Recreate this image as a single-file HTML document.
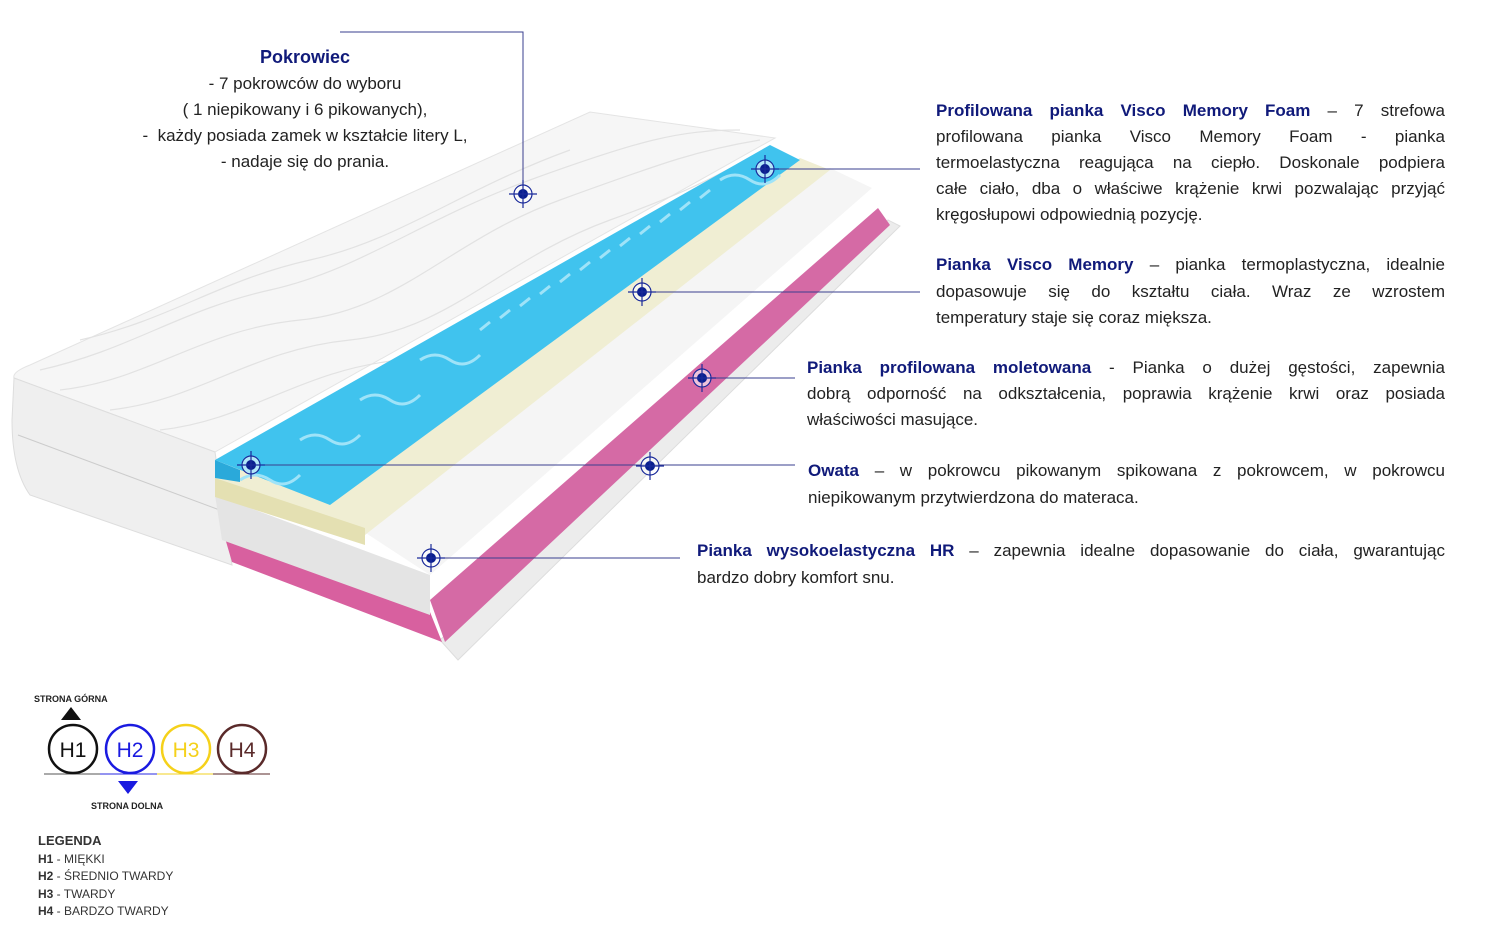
<!DOCTYPE html>
<html><head><meta charset="utf-8"><style>
body{margin:0;width:1500px;height:933px;background:#fff;position:relative;overflow:hidden;font-family:"Liberation Sans",sans-serif;color:#222}
.t{position:absolute;font-size:17px;line-height:26px;white-space:nowrap}
.j{text-align:justify;text-align-last:justify;white-space:normal}
b.h{color:#101a7a}
.lg{position:absolute;font-size:12px;line-height:17.5px;color:#333}
</style></head><body>
<svg width="1500" height="933" style="position:absolute;left:0;top:0">
<!-- cover -->
<path d="M14,378 Q12,372 30,365 L590,112 L775,138 L215,452 Z" fill="#f6f6f6" stroke="#e4e4e4"/>
<g stroke="#e2e2e2" fill="none" stroke-width="1.2">
<path d="M60,390 C150,380 200,330 300,320 S450,240 560,200 S700,150 760,140"/>
<path d="M110,410 C200,400 250,350 350,340 S500,260 610,220 S720,170 770,150"/>
<path d="M160,430 C250,420 300,370 400,360 S550,280 660,240"/>
<path d="M40,370 C130,350 180,310 270,290 S420,220 530,180 S680,130 740,130"/>
<path d="M80,340 C170,320 220,280 310,260 S460,190 570,150"/>
</g>
<path d="M14,378 L215,452 L232,565 L30,495 Q12,470 12,420 Z" fill="#efefef" stroke="#ddd"/>
<line x1="18" y1="435" x2="225" y2="512" stroke="#ccc"/>
<!-- bottom board -->
<polygon points="440,640 458,660 900,226 888,220" fill="#ececec" stroke="#ddd"/>
<!-- pink -->
<polygon points="430,600 445,642 890,225 878,208" fill="#d56aa5"/>
<polygon points="225,538 430,612 442,642 232,562" fill="#d8609f"/>
<!-- white block -->
<polygon points="300,490 430,575 872,188 830,168" fill="#f5f5f5"/>
<polygon points="215,495 430,575 430,615 222,540" fill="#e4e4e4"/>
<!-- yellow -->
<polygon points="215,478 365,535 830,170 800,158" fill="#f0eed3"/>
<polygon points="215,478 365,528 365,545 215,497" fill="#e4e0b2"/>
<!-- blue -->
<polygon points="215,460 330,505 800,160 770,145" fill="#40c3ee"/>
<g stroke="#9fe3f8" stroke-width="3" fill="none">
<path d="M240,480 q15,-10 30,0 t30,-5"/><path d="M300,440 q15,-10 30,0 t30,-5"/>
<path d="M360,400 q15,-10 30,0 t30,-5"/><path d="M420,360 q15,-10 30,0 t30,-5"/>
<path d="M480,330 l10,-8 M500,318 l10,-8 M520,306 l10,-8 M540,294 l10,-8 M560,282 l10,-8 M580,270 l10,-8 M600,258 l10,-8 M620,246 l10,-8 M640,234 l10,-8 M660,222 l10,-8 M680,210 l10,-8 M700,198 l10,-8"/>
<path d="M720,180 q15,-10 30,0 t30,-5"/>
</g>
<polygon points="215,460 240,470 240,482 215,478" fill="#2aa9da"/>
<!-- connector lines -->
<g stroke="#3a3f8f" stroke-width="1" fill="none">
<polyline points="340,32 523,32 523,194"/>
<line x1="765" y1="169" x2="920" y2="169"/>
<line x1="642" y1="292" x2="920" y2="292"/>
<line x1="702" y1="378" x2="795" y2="378"/>
<line x1="251" y1="465" x2="795" y2="465"/>
<line x1="431" y1="558" x2="680" y2="558"/>
</g>
<g stroke="#1a2a9a" stroke-width="1.2">
<g transform="translate(523,194)"><circle r="9" fill="#fff" fill-opacity=".6"/><circle r="5" fill="#0a1f8f" stroke="none"/><line x1="-14" x2="14"/><line y1="-14" y2="14"/></g>
<g transform="translate(765,169)"><circle r="9" fill="#fff" fill-opacity=".6"/><circle r="5" fill="#0a1f8f" stroke="none"/><line x1="-14" x2="14"/><line y1="-14" y2="14"/></g>
<g transform="translate(642,292)"><circle r="9" fill="#fff" fill-opacity=".6"/><circle r="5" fill="#0a1f8f" stroke="none"/><line x1="-14" x2="14"/><line y1="-14" y2="14"/></g>
<g transform="translate(702,378)"><circle r="9" fill="#fff" fill-opacity=".6"/><circle r="5" fill="#0a1f8f" stroke="none"/><line x1="-14" x2="14"/><line y1="-14" y2="14"/></g>
<g transform="translate(251,465)"><circle r="9" fill="#fff" fill-opacity=".6"/><circle r="5" fill="#0a1f8f" stroke="none"/><line x1="-14" x2="14"/><line y1="-14" y2="14"/></g>
<g transform="translate(650,466)"><circle r="9" fill="#fff" fill-opacity=".6"/><circle r="5" fill="#0a1f8f" stroke="none"/><line x1="-14" x2="14"/><line y1="-14" y2="14"/></g>
<g transform="translate(431,558)"><circle r="9" fill="#fff" fill-opacity=".6"/><circle r="5" fill="#0a1f8f" stroke="none"/><line x1="-14" x2="14"/><line y1="-14" y2="14"/></g>
</g>
<!-- legend -->
<polygon points="61,720 81,720 71,707" fill="#111"/>
<polygon points="118,781 138,781 128,794" fill="#1a1ae0"/>
<line x1="44" y1="774" x2="100" y2="774" stroke="#555"/>
<line x1="100" y1="774" x2="157" y2="774" stroke="#2a2ae0"/>
<line x1="157" y1="774" x2="213" y2="774" stroke="#f0d020"/>
<line x1="213" y1="774" x2="270" y2="774" stroke="#5a2a2a"/>
<circle cx="73" cy="749" r="24" fill="none" stroke="#111" stroke-width="2.5"/>
<circle cx="130" cy="749" r="24" fill="none" stroke="#1a1ae0" stroke-width="2.5"/>
<circle cx="186" cy="749" r="24" fill="none" stroke="#f5d11a" stroke-width="2.5"/>
<circle cx="242" cy="749" r="24" fill="none" stroke="#5a2a2a" stroke-width="2.5"/>
<g font-family="Liberation Sans,sans-serif" font-size="21" text-anchor="middle">
<text x="73" y="757" fill="#111">H1</text><text x="130" y="757" fill="#1a1ae0">H2</text>
<text x="186" y="757" fill="#f5d11a">H3</text><text x="242" y="757" fill="#5a2a2a">H4</text>
</g>
<g font-family="Liberation Sans,sans-serif" font-size="9" font-weight="bold" fill="#222">
<text x="34" y="702">STRONA GÓRNA</text><text x="91" y="809">STRONA DOLNA</text>
</g>
</svg>

<div class="t" style="left:100px;top:44px;width:410px;text-align:center"><b class="h" style="font-size:18px">Pokrowiec</b><br>- 7 pokrowców do wyboru<br>( 1 niepikowany i 6 pikowanych),<br>-&nbsp; każdy posiada zamek w kształcie litery L,<br>- nadaje się do prania.</div>

<div class="t j" style="left:936px;top:98px;width:509px"><b class="h">Profilowana pianka Visco Memory Foam</b> – 7 strefowa</div>
<div class="t j" style="left:936px;top:124px;width:509px">profilowana pianka Visco Memory Foam - pianka</div>
<div class="t j" style="left:936px;top:150px;width:509px">termoelastyczna reagująca na ciepło. Doskonale podpiera</div>
<div class="t j" style="left:936px;top:176px;width:509px">całe ciało, dba o właściwe krążenie krwi pozwalając przyjąć</div>
<div class="t" style="left:936px;top:202px">kręgosłupowi odpowiednią pozycję.</div>

<div class="t j" style="left:936px;top:252px;width:509px"><b class="h">Pianka Visco Memory</b> – pianka termoplastyczna, idealnie</div>
<div class="t j" style="left:936px;top:279px;width:509px">dopasowuje się do kształtu ciała. Wraz ze wzrostem</div>
<div class="t" style="left:936px;top:305px">temperatury staje się coraz miększa.</div>

<div class="t j" style="left:807px;top:355px;width:638px"><b class="h">Pianka profilowana moletowana</b> - Pianka o dużej gęstości, zapewnia</div>
<div class="t j" style="left:807px;top:381px;width:638px">dobrą odporność na odkształcenia, poprawia krążenie krwi oraz posiada</div>
<div class="t" style="left:807px;top:407px">właściwości masujące.</div>

<div class="t j" style="left:808px;top:458px;width:637px"><b class="h">Owata</b> – w pokrowcu pikowanym spikowana z pokrowcem, w pokrowcu</div>
<div class="t" style="left:808px;top:485px">niepikowanym przytwierdzona do materaca.</div>

<div class="t j" style="left:697px;top:538px;width:748px"><b class="h">Pianka wysokoelastyczna HR</b> – zapewnia idealne dopasowanie do ciała, gwarantując</div>
<div class="t" style="left:697px;top:565px">bardzo dobry komfort snu.</div>

<div class="lg" style="left:38px;top:832px"><b style="font-size:13px">LEGENDA</b><br><b>H1</b> - MIĘKKI<br><b>H2</b> - ŚREDNIO TWARDY<br><b>H3</b> - TWARDY<br><b>H4</b> - BARDZO TWARDY</div>
</body></html>
